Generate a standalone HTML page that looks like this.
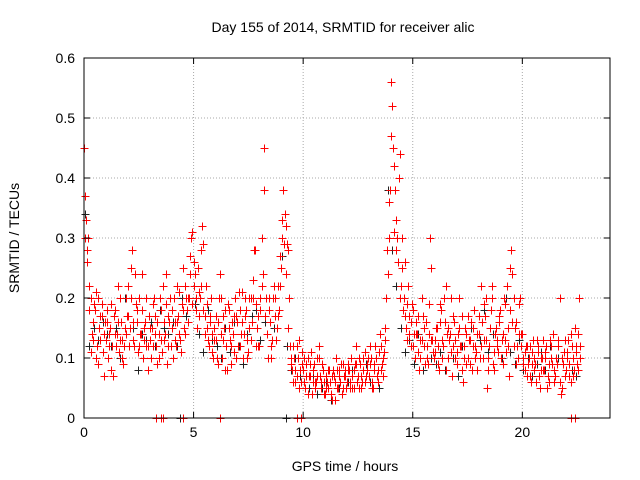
<!DOCTYPE html>
<html><head><meta charset="utf-8"><style>
body{margin:0;background:#fff}
svg{display:block;font-family:"Liberation Sans",sans-serif}
</style></head><body>
<svg id="chart" width="640" height="480" viewBox="0 0 640 480">
<rect width="640" height="480" fill="#fff"/>
<text x="343" y="32" text-anchor="middle" font-size="14">Day 155 of 2014, SRMTID for receiver alic</text>
<text x="345" y="471" text-anchor="middle" font-size="14">GPS time / hours</text>
<text transform="translate(19,238) rotate(-90)" text-anchor="middle" font-size="14">SRMTID / TECUs</text>
<g id="grid"></g><g id="marks" shape-rendering="crispEdges"></g><g id="axes"></g>
</svg>
<script>
const xTicks=[0,5,10,15,20];
const yTicks=[0,0.1,0.2,0.3,0.4,0.5,0.6];
const redA=[0.45,0.33,0.3,0.2,0.16,0.18,0.12,0.15,0.17,0.14,
0.13,0.1,0.15,0.12,0.18,0.14,0.11,0.16,0.09,0.2,
0.22,0.15,0.28,0.12,0.18,0.2,0.14,0.1,0.16,0.12,
0.13,0.15,0.2,0.12,0.1,0.18,0.22,0.14,0.09,0.16,
0.15,0.2,0.12,0.17,0.13,0.25,0.14,0.18,0.2,0.3,
0.22,0.18,0.25,0.2,0.32,0.17,0.15,0.12,0.2,0.1,
0.13,0.16,0.24,0.1,0.15,0.12,0.18,0.09,0.14,0.2,
0.16,0.12,0.21,0.14,0.18,0.11,0.13,0.2,0.28,0.15,
0.12,0.3,0.45,0.2,0.1,0.16,0.13,0.2,0.15,0.18,
0.25,0.38,0.32,0.28,0.12,0.08,0.1,0.07,0.13,0.06,
0.08,0.05,0.1,0.07,0.04,0.09,0.06,0.12,0.05,0.08,
0.04,0.06,0.08,0.03,0.07,0.1,0.05,0.06,0.09,0.07,
0.06,0.08,0.1,0.05,0.12,0.07,0.09,0.06,0.11,0.08,
0.07,0.1,0.05,0.12,0.08,0.14,0.09,0.11,0.2,0.3,
0.56,0.45,0.38,0.3,0.44,0.25,0.2,0.15,0.22,0.12,
0.18,0.1,0.14,0.08,0.2,0.12,0.16,0.09,0.3,0.13,
0.11,0.15,0.08,0.18,0.12,0.22,0.1,0.14,0.07,0.16,
0.09,0.2,0.12,0.06,0.15,0.1,0.13,0.08,0.18,0.11,
0.14,0.22,0.1,0.17,0.05,0.12,0.2,0.08,0.15,0.11,
0.18,0.09,0.13,0.22,0.07,0.28,0.12,0.16,0.1,0.2,
0.14,0.08,0.12,0.1,0.06,0.13,0.09,0.11,0.05,0.1,
0.08,0.12,0.06,0.1,0.14,0.07,0.09,0.2,0.05,0.11,
0.08,0.13,0.06,0.1,0.15,0.09,0.2];
const redB=[0.37,0.26,0.22,0.14,0.19,0.1,0.2,0.13,0.11,0.16,
0.18,0.14,0.08,0.17,0.12,0.22,0.13,0.1,0.15,0.17,
0.12,0.25,0.16,0.19,0.11,0.14,0.24,0.13,0.12,0.17,
0.1,0.19,0.14,0.16,0.2,0.11,0.13,0.24,0.17,0.12,
0.1,0.16,0.22,0.14,0.19,0.15,0.2,0.16,0.27,0.19,
0.24,0.15,0.21,0.28,0.18,0.22,0.13,0.17,0.14,0.15,
0.1,0.2,0.14,0.17,0.08,0.19,0.13,0.16,0.11,0.17,
0.21,0.14,0.1,0.17,0.13,0.2,0.16,0.28,0.19,0.12,
0.18,0.24,0.17,0.14,0.2,0.1,0.22,0.13,0.17,0.22,
0.3,0.34,0.29,0.2,0.09,0.12,0.06,0.1,0.08,0.11,
0.06,0.09,0.07,0.11,0.06,0.05,0.1,0.07,0.09,0.06,
0.07,0.05,0.04,0.08,0.06,0.05,0.08,0.04,0.07,0.05,
0.09,0.05,0.07,0.09,0.06,0.1,0.05,0.08,0.07,0.1,
0.12,0.06,0.09,0.07,0.11,0.08,0.1,0.15,0.24,0.38,
0.52,0.31,0.28,0.4,0.22,0.18,0.26,0.13,0.17,0.19,
0.14,0.16,0.11,0.13,0.17,0.09,0.12,0.14,0.25,0.1,
0.15,0.12,0.19,0.1,0.16,0.14,0.13,0.2,0.12,0.1,
0.14,0.12,0.17,0.1,0.09,0.13,0.16,0.12,0.1,0.14,
0.1,0.16,0.13,0.2,0.1,0.18,0.09,0.14,0.12,0.17,
0.13,0.2,0.11,0.15,0.18,0.24,0.15,0.12,0.19,0.14,
0.1,0.12,0.09,0.07,0.11,0.08,0.13,0.07,0.1,0.08,
0.11,0.07,0.13,0.09,0.06,0.1,0.12,0.04,0.09,0.13,
0.1,0.07,0.12,0.08,0.11,0.14,0.12];
const redC=[0.3,0.28,0.18,0.11,0.13,0.21,0.09,0.17,0.19,0.07,
0.16,0.12,0.19,0.07,0.14,0.16,0.2,0.13,0.12,0.14,
0.17,0.2,0.13,0.24,0.16,0.12,0.18,0.15,0.2,0.08,
0.15,0.12,0.17,0.09,0.14,0.13,0.16,0.19,0.12,0.2,
0.18,0.13,0.16,0.21,0.11,0.18,0.22,0.2,0.24,0.31,
0.26,0.2,0.17,0.22,0.29,0.14,0.19,0.16,0.11,0.13,
0.17,0.09,0.2,0.13,0.18,0.08,0.15,0.12,0.17,0.1,
0.12,0.18,0.16,0.2,0.1,0.15,0.2,0.23,0.12,0.17,
0.2,0.22,0.38,0.14,0.18,0.12,0.2,0.17,0.22,0.27,
0.33,0.29,0.24,0.15,0.1,0.06,0.08,0.12,0.05,0.09,
0.1,0.07,0.04,0.09,0.08,0.06,0.07,0.1,0.06,0.04,
0.05,0.08,0.06,0.07,0.03,0.08,0.07,0.09,0.05,0.08,
0.08,0.06,0.05,0.08,0.09,0.05,0.07,0.1,0.06,0.09,
0.09,0.05,0.08,0.1,0.06,0.12,0.07,0.13,0.28,0.36,
0.47,0.42,0.33,0.26,0.2,0.3,0.17,0.19,0.14,0.16,
0.12,0.14,0.17,0.1,0.13,0.15,0.1,0.19,0.13,0.11,
0.13,0.09,0.16,0.13,0.2,0.08,0.15,0.11,0.17,0.13,
0.11,0.15,0.08,0.12,0.14,0.17,0.09,0.15,0.12,0.08,
0.17,0.12,0.19,0.13,0.08,0.15,0.22,0.11,0.13,0.16,
0.1,0.14,0.19,0.12,0.25,0.16,0.2,0.09,0.14,0.12,
0.09,0.11,0.07,0.12,0.09,0.1,0.06,0.12,0.08,0.13,
0.1,0.05,0.09,0.12,0.08,0.1,0.13,0.06,0.1,0.07,
0.11,0.09,0.14,0.07,0.12,0.08,0.1];
const blackV=[0.34,0.12,0.15,0.13,0.16,0.14,0.12,0.15,0.1,0.2,
0.12,0.15,0.08,0.14,0.13,0.16,0.12,0.18,0.15,0.14,
0.16,0.12,0.2,0.17,0.24,0.19,0.14,0.11,0.18,0.13,
0.12,0.1,0.15,0.11,0.16,0.12,0.09,0.14,0.17,0.18,
0.13,0.16,0.2,0.15,0.22,0.27,0.12,0.08,0.1,0.07,
0.06,0.05,0.07,0.04,0.05,0.06,0.03,0.06,0.05,0.07,
0.06,0.08,0.06,0.07,0.09,0.06,0.08,0.05,0.1,0.38,
0.28,0.22,0.15,0.11,0.13,0.09,0.14,0.08,0.12,0.1,
0.09,0.11,0.08,0.13,0.1,0.07,0.12,0.09,0.15,0.1,
0.13,0.18,0.11,0.14,0.12,0.1,0.2,0.11,0.09,0.13,
0.08,0.1,0.07,0.09,0.11,0.08,0.12,0.06,0.1,0.09,
0.11,0.08,0.07];
const zeroRed=[3.3,3.5,3.6,4.5,6.2,9.7,9.9,22.2,22.4];
const zeroBlack=[9.2,4.4];
const X0=84,X1=610,Y0=418,Y1=58,XMAX=24,YMAX=0.6;
const sx=h=>X0+h/XMAX*(X1-X0);
const sy=v=>Y0-v/YMAX*(Y0-Y1);
const ns="http://www.w3.org/2000/svg";
const grid=document.getElementById('grid'),marks=document.getElementById('marks'),axes=document.getElementById('axes');
function mk(tag,at,p){const e=document.createElementNS(ns,tag);for(const k in at)e.setAttribute(k,at[k]);p.appendChild(e);return e;}
xTicks.forEach(t=>{const x=sx(t);
 if(t>0){const g=mk('line',{x1:x,x2:x,y1:Y0,y2:Y1,stroke:'#aaa','stroke-dasharray':'1,2'},grid);
 
 }
 const tl=mk('text',{x:x,y:Y0+19,'text-anchor':'middle','font-size':14},axes);tl.textContent=t;
 
 
 mk('line',{x1:x,x2:x,y1:Y0,y2:Y0-6,stroke:'#000'},axes);mk('line',{x1:x,x2:x,y1:Y1,y2:Y1+6,stroke:'#000'},axes);});
yTicks.forEach(t=>{const y=sy(t);
 if(t>0&&t<0.6){const g=mk('line',{x1:X0,x2:X1,y1:y,y2:y,stroke:'#aaa','stroke-dasharray':'1,2'},grid);
 
 }
 const tl=mk('text',{x:X0-9,y:y+5,'text-anchor':'end','font-size':14},axes);tl.textContent=t;
 
 
 mk('line',{x1:X0,x2:X0+6,y1:y,y2:y,stroke:'#000'},axes);mk('line',{x1:X1,x2:X1-6,y1:y,y2:y,stroke:'#000'},axes);});
const fr=mk('rect',{x:X0,y:Y1,width:X1-X0,height:Y0-Y1,fill:'none',stroke:'#000'},axes);


function plus(h,v,c,name){const x=Math.round(sx(h))+0.5,y=Math.round(sy(v))+0.5;
 const p=mk('path',{d:`M${x-4},${y}h8M${x},${y-4}v8`,stroke:c,'stroke-width':1},marks);
 
 }
blackV.forEach((v,i)=>plus(i*0.2+0.05,v,'#222','black-point'));
redA.forEach((v,i)=>plus(i*0.1,v,'#f00','red-point'));
redB.forEach((v,i)=>plus(i*0.1+0.05,v,'#f00','red-point'));
redC.forEach((v,i)=>plus(i*0.1+0.03,v,'#f00','red-point'));
zeroBlack.forEach(h=>plus(h,0,'#222','black-zero-point'));
zeroRed.forEach(h=>plus(h,0,'#f00','red-zero-point'));
</script>
</body></html>
